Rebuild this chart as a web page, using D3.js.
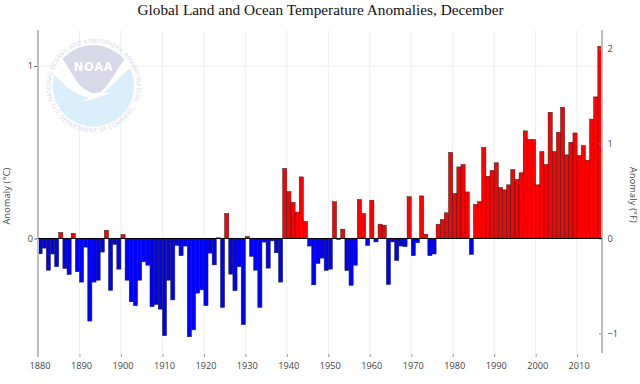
<!DOCTYPE html>
<html>
<head>
<meta charset="utf-8">
<script src="https://cdnjs.cloudflare.com/ajax/libs/d3/7.8.5/d3.min.js"></script>
<style>
  body { margin: 0; background: #fff; }
  svg { display: block; }
  text { font-family: "Open Sans", sans-serif; }
</style>
</head>
<body>
<div id="chart"></div>
<script>
const chartTitle = "Global Land and Ocean Temperature Anomalies, December";
const firstYear = 1880;
const anomalies = [
  -0.089, -0.056, -0.184, -0.09, -0.164, 0.035, -0.174, -0.209, 0.03, -0.193,
  -0.253, -0.05, -0.479, -0.253, -0.242, -0.079, 0.048, -0.301, -0.035, -0.178,
  0.023, -0.242, -0.367, -0.39, -0.242, -0.135, -0.155, -0.396, -0.383, -0.41,
  -0.564, -0.242, -0.356, -0.04, -0.1, -0.044, -0.57, -0.53, -0.317, -0.298,
  -0.39, -0.085, -0.153, 0.004, -0.4, 0.145, -0.207, -0.303, -0.164, -0.5,
  0.012, -0.104, -0.184, -0.4, -0.021, -0.172, -0.014, -0.083, -0.253, 0.406,
  0.272, 0.209, 0.153, 0.357, 0.099, -0.044, -0.269, -0.145, -0.114, -0.186,
  -0.178, 0.213, -0.006, 0.054, -0.186, -0.272, -0.155, 0.226, 0.145, -0.04,
  0.222, -0.02, 0.083, 0.077, -0.267, -0.02, -0.128, -0.044, -0.048, 0.242,
  -0.1, -0.025, 0.247, 0.025, -0.1, -0.09, 0.083, 0.11, 0.149, 0.499,
  0.261, 0.415, 0.429, 0.27, -0.093, 0.197, 0.213, 0.528, 0.361, 0.394,
  0.439, 0.296, 0.282, 0.311, 0.4, 0.342, 0.381, 0.624, 0.574, 0.574,
  0.311, 0.504, 0.429, 0.732, 0.504, 0.616, 0.761, 0.485, 0.558, 0.612,
  0.481, 0.539, 0.454, 0.692, 0.821, 1.115
];
const yearTicks = [1880, 1890, 1900, 1910, 1920, 1930, 1940, 1950, 1960, 1970, 1980, 1990, 2000, 2010];
const celsiusTicks = [0, 1];
const fahrenheitTicks = [-1, 0, 1, 2];

const width = 640, height = 384;
const plot = { left: 38, right: 602, top: 30, bottom: 354 };

const svg = d3.select("#chart").append("svg")
  .attr("width", width)
  .attr("height", height);

const x = d3.scaleLinear().domain([1880, 2016]).range([plot.left, plot.right]);
const y = d3.scaleLinear().domain([-0.67, 1.209]).range([plot.bottom, plot.top]);
const yF = d3.scaleLinear().domain([-1.216, 2.195]).range([plot.bottom, plot.top]);

// grid
svg.append("g").selectAll("line")
  .data(yearTicks.slice(1))
  .enter().append("line")
  .attr("x1", d => x(d)).attr("x2", d => x(d))
  .attr("y1", plot.top).attr("y2", plot.bottom)
  .attr("stroke", "#eeeeee");

svg.append("line")
  .attr("x1", plot.left).attr("x2", plot.right)
  .attr("y1", y(1)).attr("y2", y(1))
  .attr("stroke", "#f1f1f1");

drawLogo(93.5, 86);

// bars
const bw = x(1881) - x(1880);
svg.append("g").selectAll("rect")
  .data(anomalies)
  .enter().append("rect")
  .attr("x", (d, i) => x(firstYear + i))
  .attr("y", d => y(Math.max(d, 0)))
  .attr("width", bw)
  .attr("height", d => Math.abs(y(d) - y(0)))
  .attr("fill", d => d >= 0 ? "#ff0000" : "#0000ff")
  .attr("stroke", "#222")
  .attr("stroke-width", 0.5);

// axes
const xAxis = svg.append("g")
  .attr("transform", `translate(0,${plot.bottom})`)
  .call(d3.axisBottom(x).tickValues(yearTicks).tickFormat(d3.format("d")).tickSize(3));

const leftAxis = svg.append("g")
  .attr("transform", `translate(${plot.left},0)`)
  .call(d3.axisLeft(y).tickValues(celsiusTicks).tickFormat(d3.format("d")).tickSize(4));

const rightAxis = svg.append("g")
  .attr("transform", `translate(${plot.right},0)`)
  .call(d3.axisRight(yF).tickValues(fahrenheitTicks).tickFormat(d3.format("d")).tickSize(-3));

[xAxis, leftAxis, rightAxis].forEach(a => {
  a.select(".domain").remove();
  a.selectAll("text").attr("font-size", 9.2).attr("fill", "#444");
});
xAxis.selectAll("line").attr("stroke", "#999");
xAxis.selectAll("text").attr("y", 8.5).attr("dx", 1.5);
leftAxis.selectAll("line").attr("stroke", "#666");
leftAxis.selectAll("text").attr("x", -5);
rightAxis.selectAll("line").attr("stroke", "#888");
rightAxis.selectAll("text").attr("x", 5.4);

// side lines
svg.append("line")
  .attr("x1", plot.left).attr("x2", plot.left)
  .attr("y1", plot.top).attr("y2", 357)
  .attr("stroke", "#bdbdbd")
  .attr("stroke-width", 2);
svg.append("line")
  .attr("x1", plot.right).attr("x2", plot.right)
  .attr("y1", plot.top).attr("y2", 353)
  .attr("stroke", "#bdbdbd")
  .attr("stroke-width", 2);

// zero line
svg.append("line")
  .attr("x1", plot.left).attr("x2", plot.right)
  .attr("y1", y(0)).attr("y2", y(0))
  .attr("stroke", "#000")
  .attr("stroke-width", 1);

svg.append("text")
  .attr("x", 320.5).attr("y", 15)
  .attr("text-anchor", "middle")
  .style("font-family", "'Liberation Serif', serif")
  .attr("font-size", 15.3)
  .attr("fill", "#111")
  .text(chartTitle);

svg.append("text")
  .attr("transform", "translate(9.7,196) rotate(-90)")
  .attr("text-anchor", "middle")
  .attr("font-size", 9)
  .attr("letter-spacing", 0.25)
  .attr("fill", "#444")
  .text("Anomaly (°C)");

svg.append("text")
  .attr("transform", "translate(630.3,195) rotate(90)")
  .attr("text-anchor", "middle")
  .attr("font-size", 9)
  .attr("letter-spacing", 0.25)
  .attr("fill", "#444")
  .text("Anomaly (°F)");

function drawLogo(cx, cy) {
  const g = svg.append("g").attr("transform", `translate(${cx},${cy})`);
  g.append("circle").attr("r", 40.7).attr("fill", "#d9eefb");
  // dark upper part
  g.append("path")
    .attr("d", "M-31,-27 A40.7,40.7 0 0 1 31,-26 C24,-18 20,-8 12,1 C8,6 5,7.3 1.5,7.3 C-3,7.3 -8,4 -14,-1 C-20,-8 -25,-19 -31,-27 Z")
    .attr("fill", "#d8d8e8");
  // white gull with its tail
  g.append("path")
    .attr("d", "M-40,-11 C-39,-17 -35,-23 -31,-27 C-25,-19 -20,-8 -14,-1 C-8,4 -3,7.3 1.5,7.3 C5,7.3 8,6 12,1 C20,-8 24,-18 31,-26 L36.5,-18 C28,-12 21,-2 10,6.7 C13,6.5 16,6.8 18,7.3 C8,9 2,14 -12.5,15.7 C-9,14 -6,13 -4,11.5 C-12,11 -20,5 -27,0.7 C-32,-4 -36,-9 -40,-11 Z")
    .attr("fill", "#fff");
  g.append("text")
    .attr("y", -15)
    .attr("text-anchor", "middle")
    .style("font-family", "'DejaVu Sans', sans-serif")
    .attr("font-size", 11.5)
    .attr("font-weight", "bold")
    .attr("letter-spacing", 0.6)
    .attr("fill", "#fff")
    .text("NOAA");
  g.append("path").attr("id", "ringTop")
    .attr("d", "M-40.6,14 A43,43 0 1 1 40.6,14")
    .attr("fill", "none");
  g.append("path").attr("id", "ringBottom")
    .attr("d", "M-41.5,21 A46.5,46.5 0 0 0 41.5,21")
    .attr("fill", "none");
  g.append("text")
    .attr("font-size", 6)
    .attr("fill", "#d3d6ea")
    .append("textPath").attr("href", "#ringTop")
    .attr("startOffset", "50%").attr("text-anchor", "middle")
    .text("NATIONAL OCEANIC AND ATMOSPHERIC ADMINISTRATION");
  g.append("text")
    .attr("font-size", 6)
    .attr("letter-spacing", 0.4)
    .attr("fill", "#d3d6ea")
    .append("textPath").attr("href", "#ringBottom")
    .attr("startOffset", "50%").attr("text-anchor", "middle")
    .text("U.S. DEPARTMENT OF COMMERCE");
}
</script>
</body>
</html>
